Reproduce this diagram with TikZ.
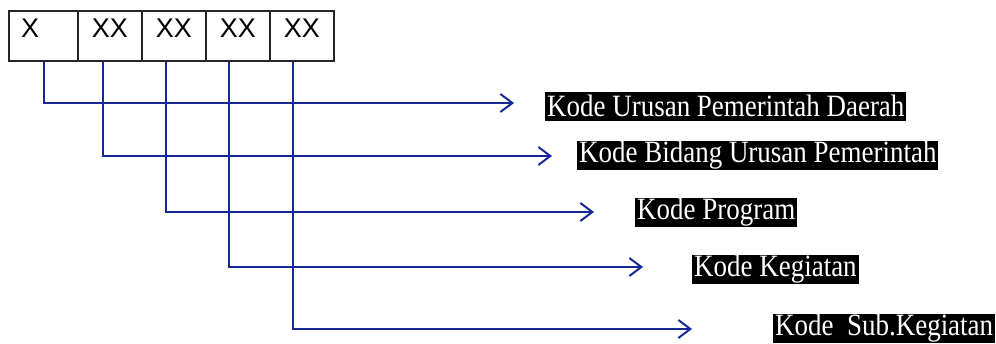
\documentclass[tikz,border=0pt]{standalone}
\usepackage{fontspec}
\setmainfont{Liberation Serif}
\newfontfamily\cellfont{Liberation Sans}
\newfontfamily\labfont[FakeStretch=0.87]{Liberation Serif}
\usetikzlibrary{arrows.meta,calc}
\definecolor{lineblue}{RGB}{22,40,150}
\tikzset{
  cell/.style={draw=black!85, line width=1.8pt, minimum height=50pt, inner sep=0pt, text height=19pt, text depth=16pt, font=\cellfont\fontsize{27}{29}\selectfont},
  lab/.style={fill=black, text=white, anchor=west, inner xsep=2pt, inner ysep=0pt, minimum height=29pt, font=\labfont\fontsize{31}{33}\selectfont},
  conn/.style={draw=lineblue, line width=2.3pt, -{Straight Barb[length=12pt,width=18pt,line width=2pt]}}
}
\begin{document}
\begin{tikzpicture}[x=1pt,y=-1pt]
\useasboundingbox (0,0) rectangle (996,343);
% cells
\node[cell, minimum width=69pt, anchor=north west] (c1) at (8,10) {};
\node[anchor=base west, font=\cellfont\fontsize{27}{29}\selectfont, inner sep=0pt] (t1) at (21,37) {X};
\node[cell, minimum width=64pt, anchor=north west] (c2) at (77,10) {XX};
\node[cell, minimum width=64pt, anchor=north west] (c3) at (141,10) {XX};
\node[cell, minimum width=64pt, anchor=north west] (c4) at (205,10) {XX};
\node[cell, minimum width=64pt, anchor=north west] (c5) at (269,10) {XX};
% labels
\node[lab] (l1) at (545,106) {Kode Urusan Pemerintah Daerah};
\node[lab] (l2) at (577,155) {Kode Bidang Urusan Pemerintah};
\node[lab] (l3) at (635,212) {Kode Program};
\node[lab] (l4) at (692,269) {Kode Kegiatan};
\node[lab] (l5) at (773,328) {Kode\ \ Sub.Kegiatan};
% connector points
\coordinate (s1) at ($(c1.south west)+(36,0)$);
\coordinate (s2) at ($(c2.south west)+(26,0)$);
\coordinate (s3) at ($(c3.south west)+(25,0)$);
\coordinate (s4) at ($(c4.south west)+(24,0)$);
\coordinate (s5) at ($(c5.south west)+(24,0)$);
\coordinate (e1) at (514,103);
\coordinate (e2) at (552,156);
\coordinate (e3) at (594,212);
\coordinate (e4) at (643,267);
\coordinate (e5) at (692,329);
\draw[conn] (s1) |- (e1);
\draw[conn] (s2) |- (e2);
\draw[conn] (s3) |- (e3);
\draw[conn] (s4) |- (e4);
\draw[conn] (s5) |- (e5);
\end{tikzpicture}
\end{document}
